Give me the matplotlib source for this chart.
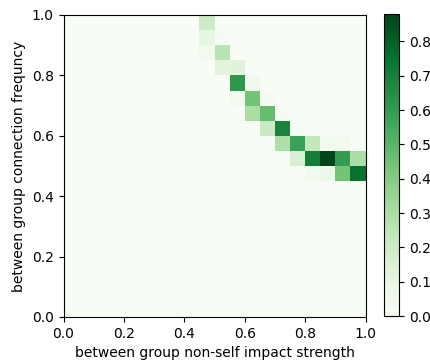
import numpy as np
import matplotlib
matplotlib.use("Agg")
import matplotlib.pyplot as plt

# bin centres (x = impact strength, y = connection frequency) and cell values
impact = [0.475, 0.475, 0.525, 0.475, 0.525, 0.525, 0.575,
          0.575, 0.625, 0.575, 0.625, 0.675, 0.625, 0.675, 0.725,
          0.675, 0.725, 0.775, 0.725, 0.775, 0.825, 0.875, 0.925,
          0.775, 0.825, 0.875, 0.925, 0.975, 0.825, 0.875, 0.925, 0.975]
freq = [0.975, 0.925, 0.925, 0.875, 0.875, 0.825, 0.825,
        0.775, 0.775, 0.725, 0.725, 0.725, 0.675, 0.675, 0.675,
        0.625, 0.625, 0.625, 0.575, 0.575, 0.575, 0.575, 0.575,
        0.525, 0.525, 0.525, 0.525, 0.525, 0.475, 0.475, 0.475, 0.475]
density = [0.20, 0.10, 0.02, 0.03, 0.26, 0.12, 0.13,
           0.62, 0.05, 0.03, 0.44, 0.02, 0.30, 0.47, 0.02,
           0.21, 0.69, 0.02, 0.29, 0.58, 0.23, 0.04, 0.03,
           0.16, 0.71, 0.88, 0.60, 0.30, 0.04, 0.06, 0.44, 0.75]

fig = plt.figure(figsize=(4.3, 3.6), dpi=100)
ax = fig.add_axes([63 / 430, 43 / 360, 303 / 430, 302 / 360])
h = ax.hist2d(impact, freq, bins=20, range=[[0, 1], [0, 1]],
              weights=density, cmap="Greens", vmin=0, vmax=max(density))
ax.set_aspect("equal")
ax.set_xlabel("between group non-self impact strength")
ax.set_ylabel("between group connection frequncy")

cax = fig.add_axes([384 / 430, 44 / 360, 15 / 430, 302 / 360])
fig.colorbar(h[3], cax=cax, format="%.1f")

fig.savefig("out.png", dpi=100)
